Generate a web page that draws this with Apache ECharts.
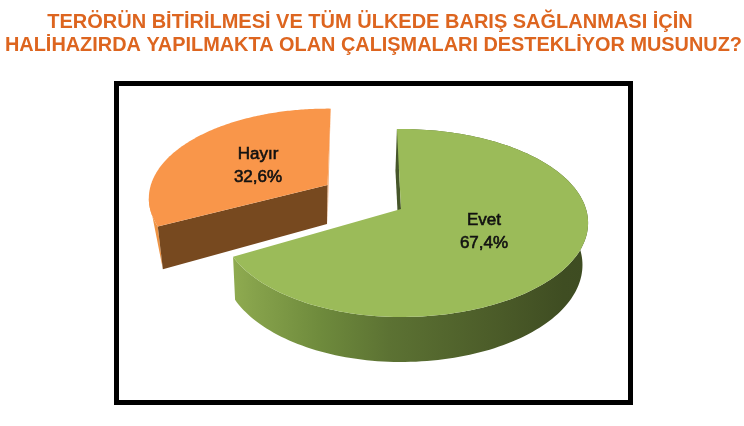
<!DOCTYPE html>
<html><head><meta charset="utf-8">
<style>html,body{margin:0;padding:0;background:#fff}#c{width:744px;height:426px}</style>
<script src="https://cdn.jsdelivr.net/npm/echarts@6/dist/echarts.min.js"></script>
</head><body><div id="c"></div>
<script>
const categories = ['Hayır', 'Evet'];
const values = [32.6, 67.4];
const titleLines = ['TERÖRÜN BİTİRİLMESİ VE TÜM ÜLKEDE BARIŞ SAĞLANMASI İÇİN', 'HALİHAZIRDA YAPILMAKTA OLAN ÇALIŞMALARI DESTEKLİYOR MUSUNUZ?'];

const P = {ax:401, ay:209, A:185, B:91.9, k:0.149, D:41.5, shrink:0.03, start:-1.5};
const slices = {
  'Evet':  {ox:0, oy:0, sc:1, rot:0, left:0.962, shrinkLeft:0.012, top:'#9BBB59', label:[484,232]},
  'Hayır': {ox:-73.5, oy:-24, sc:0.955, rot:2.7, left:1, shrinkLeft:0.03, top:'#F9964A', label:[258,166]}
};
function proj(deg, s){
  const t = (deg+s.rot)*Math.PI/180, u = Math.sin(t), v = Math.cos(t), w = 1+P.k*v;
  const x = P.ax+s.ox+P.A*s.sc*u/w*(u<0?s.left:1), y = P.ay+s.oy-P.B*s.sc*v/w;
  return [x,y,v,w];
}
function drop(p, s){
  const ax = P.ax+s.ox, sh = p[0]<ax ? s.shrinkLeft : P.shrink;
  return [ax+(p[0]-ax)*(1-sh), p[1]+P.D/Math.sqrt(p[3])];
}
function polyShape(points, style){ return {type:'polygon', shape:{points}, style}; }

function renderItem(params, api){
  const name = categories[params.dataIndex];
  const s = slices[name];
  // angles measured clockwise from north; Evet first from the top, Hayır fills the rest
  const evetSpan = values[1]/(values[0]+values[1])*360;
  const a0 = name==='Evet' ? P.start : P.start+evetSpan;
  const a1 = name==='Evet' ? P.start+evetSpan : P.start+360;
  const apex = [P.ax+s.ox, P.ay+s.oy];
  const arc = [];
  for(let i=0;i<=160;i++) arc.push(proj(a0+(a1-a0)*i/160, s));
  const children = [];
  const topPts = [apex].concat(arc.map(p=>[p[0],p[1]]));
  if(name==='Evet'){
    const side = arc.map(p=>[p[0],p[1]]).concat(arc.slice().reverse().map(p=>drop(p,s)));
    children.push(polyShape(side,{fill:new echarts.graphic.LinearGradient(0,0,1,0,[
      {offset:0,color:'#8FAB50'},{offset:0.06,color:'#86A24B'},{offset:0.25,color:'#6E8A3C'},
      {offset:0.44,color:'#5C7233'},{offset:0.76,color:'#4A5A28'},{offset:0.93,color:'#3F4D22'},{offset:1,color:'#3E4C22'}])}));
    const c = arc[0];
    children.push(polyShape([[c[0],c[1]],apex,[apex[0]-1.5,apex[1]+P.D],[c[0]-1.5,c[1]+P.D]],{fill:'#46562A'}));
  } else {
    let li = 0;
    arc.forEach((p,i)=>{ if(p[0]<arc[li][0]) li=i; });
    const c = arc[0], cB = drop(c,s);
    const strip = arc.slice(0,li+1).map(p=>[p[0],p[1]]).concat([cB]);
    children.push(polyShape(strip,{fill:'#EE9343'}));
    const e = arc[arc.length-1];
    children.push(polyShape([[e[0],e[1]],apex,[apex[0],apex[1]+P.D]],{fill:'#F7B27C'}));
    children.push(polyShape([[c[0],c[1]],apex,[apex[0]-0.5,apex[1]+39],cB],{fill:'#77491F'}));
  }
  children.push(polyShape(topPts,{fill:s.top}));
  children.push({type:'text', style:{
    text:name+'\n'+api.value(0).toFixed(1).replace('.',',')+'%',
    x:s.label[0], y:s.label[1], align:'center', verticalAlign:'middle',
    font:'17px "Liberation Sans", Arial, sans-serif', lineHeight:23.5,
    fill:'#111', stroke:'#111', lineWidth:0.6
  }});
  return {type:'group', children};
}

const titleStyle = {fontFamily:'"Liberation Sans", Arial, sans-serif', fontWeight:'bold', fontSize:20, color:'#DD651F'};
const chart = echarts.init(document.getElementById('c'), null, {renderer:'canvas'});
chart.setOption({
  animation:false,
  backgroundColor:'#fff',
  title:[
    {text:titleLines[0], left:370, top:12, textAlign:'center', padding:0, textStyle:titleStyle},
    {text:titleLines[1], left:373.5, top:36, textAlign:'center', padding:0, textStyle:{...titleStyle, fontSize:19.9}}
  ],
  graphic:[{type:'rect', shape:{x:116.5,y:83.5,width:514,height:319},
    style:{fill:'#fff', stroke:'#000', lineWidth:5}, z:-1}],
  series:[{
    type:'custom', coordinateSystem:'none', renderItem,
    data:values.map((v,i)=>({name:categories[i], value:[v]}))
  }]
});
</script></body></html>
